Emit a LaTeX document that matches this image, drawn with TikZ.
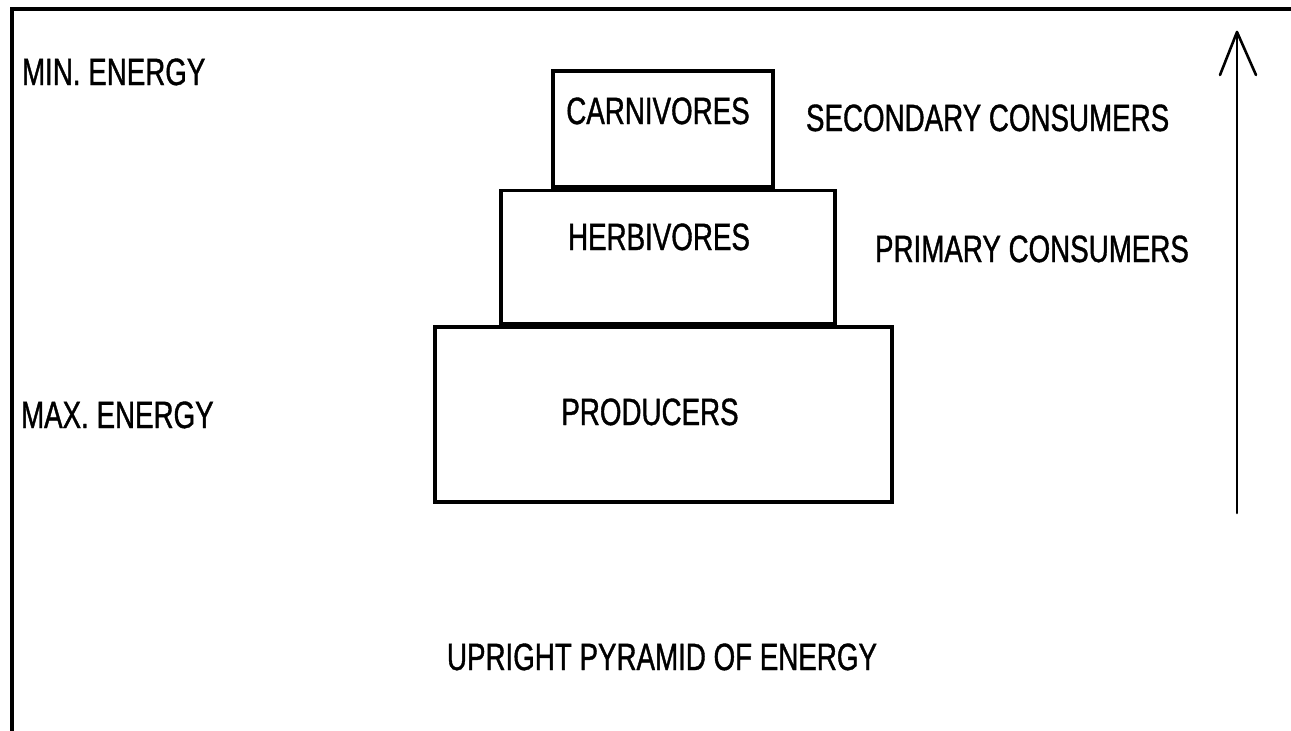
\documentclass[tikz,border=0pt]{standalone}
\usepackage{fontspec}
\setmainfont{Liberation Sans}[FakeStretch=0.73, FakeBold=1]
\begin{document}
\begin{tikzpicture}[x=1pt,y=-1pt,
  tier/.style={draw=black, line width=3.8pt, fill=white, inner sep=0pt, outer sep=0pt},
  lbl/.style={font=\fontsize{38}{38}\selectfont, inner sep=0pt, outer sep=0pt},
  frameline/.style={line width=4pt},
  axis/.style={line width=2.6pt, line cap=round, line join=round}]
  \useasboundingbox (0,0) rectangle (1291,731);
  \fill[white] (0,0) rectangle (1291,731);

  % outer frame: left and top edges
  \coordinate (fbl) at (12,731);
  \coordinate (ftl) at (12,9);
  \coordinate (ftr) at (1291,9);
  \draw[frameline] (fbl) -- (ftl) -- (ftr);

  % the three tiers of the pyramid
  \node[tier, minimum width=220, minimum height=116] (carn) at (663,129) {};
  \node[tier, minimum width=334, minimum height=133] (herb) at (668,257) {};
  \node[tier, minimum width=457, minimum height=175] (prod) at (663.5,414.5) {};

  % tier names
  \node[lbl, anchor=base] (tcarn) at (658,124) {CARNIVORES};
  \node[lbl, anchor=base] (therb) at (659,250) {HERBIVORES};
  \node[lbl, anchor=base] (tprod) at (650,425) {PRODUCERS};

  % trophic level names
  \node[lbl, anchor=base west] (sec) at (806,131) {SECONDARY CONSUMERS};
  \node[lbl, anchor=base west] (pri) at (875,262) {PRIMARY CONSUMERS};

  % energy labels
  \node[lbl, anchor=base west] (minE) at (22,85) {MIN. ENERGY};
  \node[lbl, anchor=base west] (maxE) at (21,428) {MAX. ENERGY};

  % title
  \node[lbl, anchor=base west] (title) at (447,670) {UPRIGHT PYRAMID OF ENERGY};

  % upward arrow
  \coordinate (abot) at (1237,513);
  \coordinate (atip) at (1237,32);
  \coordinate (aleft) at (1220,75);
  \coordinate (aright) at (1256,75);
  \draw[axis] (abot) -- (atip);
  \draw[axis] (aleft) -- (atip) -- (aright);
\end{tikzpicture}
\end{document}
